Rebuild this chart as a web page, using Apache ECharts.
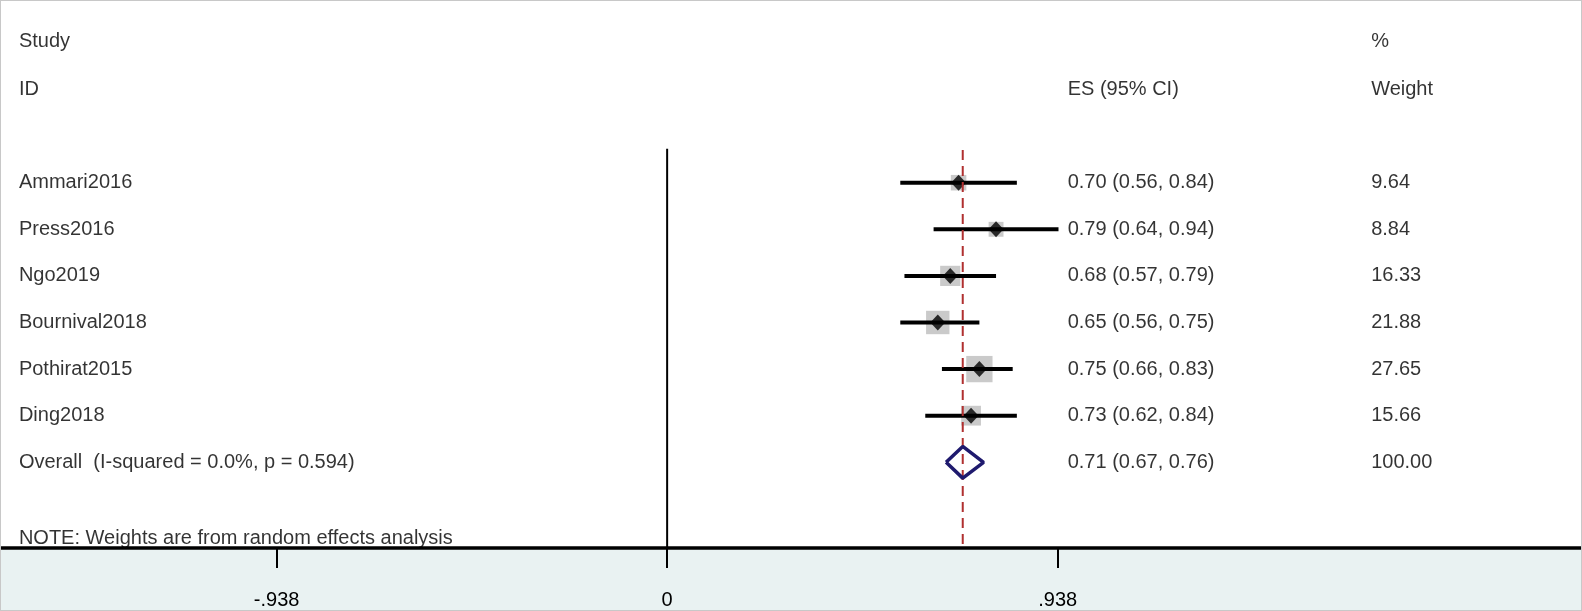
<!DOCTYPE html>
<html>
<head>
<meta charset="utf-8">
<script src="https://cdn.jsdelivr.net/npm/echarts@6/dist/echarts.min.js"></script>
<style>
html, body { margin: 0; padding: 0; background: #fff; }
#chart { width: 1582px; height: 611px; box-sizing: border-box; border: 1px solid #c8c8c8; }
</style>
</head>
<body>
<div id="chart"></div>
<script>
// study rows
var studies = ['Ammari2016', 'Press2016', 'Ngo2019', 'Bournival2018', 'Pothirat2015', 'Ding2018'];
var es = [0.70, 0.79, 0.68, 0.65, 0.75, 0.73];
var lower = [0.56, 0.64, 0.57, 0.56, 0.66, 0.62];
var upper = [0.84, 0.94, 0.79, 0.75, 0.83, 0.84];
var weights = ['9.64', '8.84', '16.33', '21.88', '27.65', '15.66'];
var overall = { label: 'Overall  (I-squared = 0.0%, p = 0.594)', es: 0.71, lo: 0.67, hi: 0.76, weight: '100.00' };
var tickValues = [-0.938, 0, 0.938];
var tickLabels = ['-.938', '0', '.938'];

var nameX = -1.557, esX = 0.962, wX = 1.691;
var txt = { color: '#000', fontSize: 20, fontFamily: 'Liberation Sans, Arial' };

function fmt(v) { return v.toFixed(2); }

var textData = [];
function addText(x, y, s) {
    textData.push({ value: [x, y], label: { formatter: s } });
}
addText(nameX, -3.04, 'Study');
addText(wX, -3.04, '%');
addText(nameX, -2.01, 'ID');
addText(esX, -2.01, 'ES (95% CI)');
addText(wX, -2.01, 'Weight');
for (var i = 0; i < studies.length; i++) {
    addText(nameX, i, studies[i]);
    addText(esX, i, fmt(es[i]) + ' (' + fmt(lower[i]) + ', ' + fmt(upper[i]) + ')');
    addText(wX, i, weights[i]);
}
addText(nameX, 6, overall.label);
addText(esX, 6, fmt(overall.es) + ' (' + fmt(overall.lo) + ', ' + fmt(overall.hi) + ')');
addText(wX, 6, overall.weight);
addText(nameX, 7.63, 'NOTE: Weights are from random effects analysis');

var series = [];
// confidence intervals
for (var i = 0; i < studies.length; i++) {
    series.push({
        type: 'line', data: [[lower[i], i], [upper[i], i]], symbol: 'none',
        lineStyle: { color: '#000', width: 4 }, silent: true, z: 3
    });
}
// weight boxes
series.push({
    type: 'scatter', symbol: 'rect', z: 2,
    data: es.map(function (v, i) { return { value: [v, i], symbolSize: 5 * Math.sqrt(parseFloat(weights[i])) }; }),
    itemStyle: { color: '#bdbdbd' }
});
// point estimates
series.push({
    type: 'scatter', symbol: 'diamond', symbolSize: [15, 16], z: 4,
    data: es.map(function (v, i) { return [v, i]; }),
    itemStyle: { color: '#000' }
});
// null line
series.push({
    type: 'line', data: [[0, -0.73], [0, 8.6]], symbol: 'none',
    lineStyle: { color: '#000', width: 2 }, z: 1
});
// overall line
series.push({
    type: 'line', data: [[overall.es, -0.7], [overall.es, 8.15]], symbol: 'none',
    lineStyle: { color: '#b03030', width: 2, type: [10, 6] }, z: 5
});
// overall diamond
series.push({
    type: 'line', symbol: 'none', z: 6,
    data: [[overall.lo, 6], [overall.es, 5.66], [overall.hi, 6], [overall.es, 6.34], [overall.lo, 6]],
    lineStyle: { color: '#1f1a6e', width: 3.5 }
});
// text
series.push({
    type: 'scatter', symbolSize: 0, data: textData, silent: true,
    label: Object.assign({ show: true, position: 'right', distance: 0 }, txt)
});

var chart = echarts.init(document.getElementById('chart'));
chart.setOption({
    animation: false,
    graphic: [{
        type: 'rect', shape: { x: 0, y: 547, width: 1582, height: 64 },
        style: { fill: '#e9f2f2' }, z: -10
    }],
    grid: { left: 0, right: 0, top: 0, bottom: 62 },
    xAxis: {
        type: 'value', min: -1.6, max: 2.195,
        splitLine: { show: false },
        axisLine: { show: true, onZero: false, lineStyle: { color: '#000', width: 3.5 } },
        axisTick: { show: true, customValues: tickValues, length: 20, lineStyle: { color: '#000', width: 2 } },
        axisLabel: {
            customValues: tickValues, margin: 42, color: '#000', fontSize: 20,
            fontFamily: 'Liberation Sans, Arial',
            formatter: function (v) { return tickLabels[tickValues.indexOf(v)] || ''; }
        }
    },
    yAxis: {
        type: 'value', min: -3.9, max: 7.84, inverse: true, show: false
    },
    series: series
});
</script>
</body>
</html>
